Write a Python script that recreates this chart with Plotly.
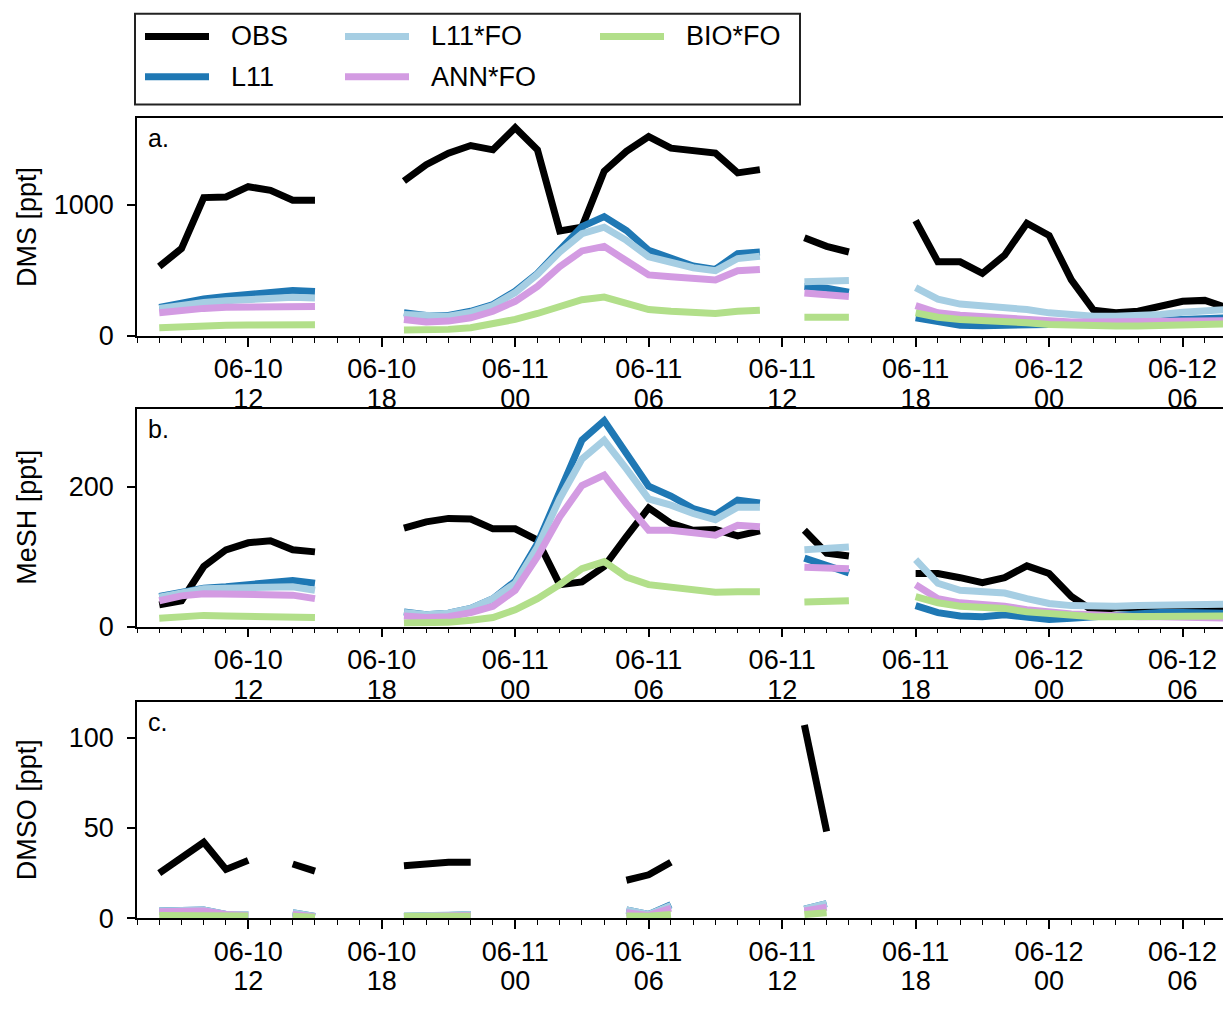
import plotly.graph_objects as go

W, H = 1223, 1009
FONT = "Liberation Sans, Arial, sans-serif"

# hourly time grid, 06-10 08:00 .. 06-12 08:00
TIMES = [f"2019-06-10 {h:02d}:00" for h in range(8, 24)] + \
        [f"2019-06-11 {h:02d}:00" for h in range(0, 24)] + \
        [f"2019-06-12 {h:02d}:00" for h in range(0, 9)]

N = None

# ---- DMS [ppt] ----
DMS_OBS = [530, 666, 1055, 1060, 1138, 1110, 1035, 1035, N, N, N,
           1181, 1306, 1394, 1452, 1419,
           1588, 1419, 800, 830, 1256, 1407, 1520, 1432, 1412, 1394, 1243, 1268,
           N, 748, 683, 640, N, N,
           879, 565, 565, 477, 616, 859, 766, 427, 196, 176, 188, 226, 264, 271, 215]
DMS_L11 = [218, 251, 281, 301, 314, 339, 347, 339, N, N, N,
           176, 156, 156, 188, 239,
           340, 477, 653, 834, 910, 804, 653, 590, 533, 507, 628, 640,
           N, 377, 364, 334, N, N,
           138, 106, 82, 77, 77, 82, 88, 95, 101, 113, 121, 126, 138, 138, 138]
DMS_L11FO = [210, 235, 255, 268, 278, 290, 295, 290, N, N, N,
             163, 150, 150, 180, 232,
             330, 470, 640, 779, 829, 729, 603, 558, 520, 497, 590, 608,
             N, 414, 420, 422, N, N,
             369, 281, 243, 231, 226, 201, 176, 158, 151, 151, 156, 163, 181, 196, 201]
DMS_ANNFO = [176, 195, 210, 218, 222, 230, 232, 225, N, N, N,
             126, 106, 113, 138, 188,
             264, 377, 528, 648, 683, 573, 465, 452, 440, 427, 497, 507,
             N, 327, 309, 301, N, N,
             231, 176, 158, 146, 138, 126, 113, 106, 106, 108, 110, 112, 114, 116, 117]
DMS_BIOFO = [63, 72, 78, 82, 84, 88, 88, 86, N, N, N,
             45, 43, 50, 63, 88,
             126, 171, 226, 276, 296, 246, 201, 188, 176, 171, 188, 196,
             N, 143, 143, 143, N, N,
             176, 143, 126, 121, 113, 101, 88, 80, 75, 75, 75, 80, 88, 90, 92]

# ---- MeSH [ppt] ----
MESH_OBS = [31, 37, 86, 110, 120, 123, 110, 107, N, N, N,
            141, 150, 155, 154, 140,
            140, 124, 60, 64, 86, 129, 170, 148, 138, 139, 130, 137,
            N, 138, 105, 101, N, N,
            76, 76, 70, 63, 70, 87, 76, 43, 22, 27, 27, 27, 28, 28, 28]
MESH_L11 = [43, 50, 55, 57, 60, 65, 66, 62, N, N, N,
            21, 17, 19, 26, 40,
            65, 119, 193, 267, 295, 250, 201, 187, 169, 160, 181, 177,
            N, 98, 88, 77, N, N,
            30, 20, 15, 14, 17, 13, 10, 12, 14, 18, 19, 20, 20, 19, 19]
MESH_L11FO = [42, 48, 54, 55, 56, 58, 57, 52, N, N, N,
              20, 17, 19, 26, 40,
              62, 114, 183, 240, 267, 226, 183, 174, 162, 153, 171, 171,
              N, 110, 112, 114, N, N,
              96, 62, 52, 50, 48, 40, 33, 30, 29, 29, 30, 30, 31, 31, 32]
MESH_ANNFO = [37, 44, 47, 47, 46, 47, 45, 40, N, N, N,
              15, 13, 14, 20, 29,
              52, 100, 157, 202, 217, 176, 138, 138, 134, 131, 145, 143,
              N, 85, 84, 83, N, N,
              60, 40, 34, 32, 29, 24, 20, 18, 17, 15, 14, 14, 13, 13, 12]
MESH_BIOFO = [12, 14, 16, 15, 14, 15, 14, 13, N, N, N,
              5, 5, 6, 9, 13,
              24, 40, 60, 83, 93, 71, 60, 56, 52, 49, 50, 50,
              N, 35, 36, 37, N, N,
              43, 34, 29, 28, 26, 21, 18, 16, 14, 14, 14, 14, 14, 14, 15]

# ---- DMSO [ppt] ----
DMSO_OBS = [25, 34, 42, 27, 32, N, 30, 26, N, N, N,
            29, 30, 31, 31, N,
            N, N, N, N, N, 21, 24, 31, N, N, N, N,
            N, 107, 48, N, N, N,
            N, N, N, N, N, N, N, N, N, N, N, N, N, N, N]
DMSO_L11 = [4, 4.5, 4.5, 2, 2, N, 3, 1, N, N, N,
            1, 1, 1.5, 2, N,
            N, N, N, N, N, 4.5, 2, 7.5, N, N, N, N,
            N, 5, 8, N, N, N,
            N, N, N, N, N, N, N, N, N, N, N, N, N, N, N]
DMSO_L11FO = [4, 4.5, 4.5, 2, 2, N, 3, 1, N, N, N,
              1, 1.2, 1.5, 2, N,
              N, N, N, N, N, 4.5, 2, 7, N, N, N, N,
              N, 5, 8, N, N, N,
              N, N, N, N, N, N, N, N, N, N, N, N, N, N, N]
DMSO_ANNFO = [3.5, 4, 4, 2, 1.5, N, 2, 0.8, N, N, N,
              0.8, 1, 1.2, 1.5, N,
              N, N, N, N, N, 3, 1.5, 5.5, N, N, N, N,
              N, 4, 6, N, N, N,
              N, N, N, N, N, N, N, N, N, N, N, N, N, N, N]
DMSO_BIOFO = [1.5, 1.5, 1.5, 1.2, 1.2, N, 1, 0.5, N, N, N,
              1, 1, 1, 1, N,
              N, N, N, N, N, 1.2, 1, 2, N, N, N, N,
              N, 2, 3, N, N, N,
              N, N, N, N, N, N, N, N, N, N, N, N, N, N, N]

SERIES_NAMES = ["OBS", "L11", "L11*FO", "ANN*FO", "BIO*FO"]
COLORS = ["#000000", "#1f78b4", "#a6cee3", "#d39be2", "#b2df8a"]

PANELS = [
    dict(data=[DMS_OBS, DMS_L11, DMS_L11FO, DMS_ANNFO, DMS_BIOFO],
         ytitle="DMS [ppt]", letter="a.", yrange=[0, 1660], yticks=[0, 1000],
         top=120, bottom=341),
    dict(data=[MESH_OBS, MESH_L11, MESH_L11FO, MESH_ANNFO, MESH_BIOFO],
         ytitle="MeSH [ppt]", letter="b.", yrange=[0, 312], yticks=[0, 200],
         top=415, bottom=636),
    dict(data=[DMSO_OBS, DMSO_L11, DMSO_L11FO, DMSO_ANNFO, DMSO_BIOFO],
         ytitle="DMSO [ppt]", letter="c.", yrange=[0, 119.5], yticks=[0, 50, 100],
         top=713, bottom=932),
]

XRANGE = ["2019-06-10 07:00", "2019-06-12 07:49"]
XTICKS = ["2019-06-10 12:00", "2019-06-10 18:00", "2019-06-11 00:00", "2019-06-11 06:00",
          "2019-06-11 12:00", "2019-06-11 18:00", "2019-06-12 00:00", "2019-06-12 06:00"]
XTICK_LABELS = [("06-10", "12"), ("06-10", "18"), ("06-11", "00"), ("06-11", "06"),
                ("06-11", "12"), ("06-11", "18"), ("06-12", "00"), ("06-12", "06")]

GLYPH = 27      # visible text size
LINE_W = 7

def big(s):
    return f'<span style="font-size:{GLYPH}px">{s}</span>'

ticktext = [big(a) + "<br>" + big(b) for a, b in XTICK_LABELS]

X_LEFT = 137 / W

def px_x(x):
    return x / W

def px_y(y):
    return 1 - y / H

fig = go.Figure()
layout = dict(
    width=W, height=H, autosize=False,
    margin=dict(l=0, r=0, t=0, b=0),
    paper_bgcolor="white", plot_bgcolor="white",
    font=dict(family=FONT, size=GLYPH, color="black"),
    showlegend=False,
)

annotations = []
shapes = []

for k, p in enumerate(PANELS):
    sfx = "" if k == 0 else str(k + 1)
    xa, ya = "x" + sfx, "y" + sfx
    for name, color, vals in zip(SERIES_NAMES, COLORS, p["data"]):
        fig.add_trace(go.Scatter(
            x=TIMES, y=vals, mode="lines", name=name,
            line=dict(color=color, width=LINE_W),
            xaxis=xa, yaxis=ya, connectgaps=False, showlegend=False,
        ))
    layout["xaxis" + sfx] = dict(
        type="date", range=XRANGE, domain=[X_LEFT, 1.0], anchor=ya,
        tickmode="array", tickvals=XTICKS, ticktext=ticktext,
        ticks="outside", ticklen=9, tickwidth=1.5, tickcolor="black",
        tickfont=dict(family=FONT, size=23, color="black"),
        ticklabelstandoff=4,
        showline=True, linewidth=1.6, linecolor="black", mirror=True,
        showgrid=False, zeroline=False,
        minor=dict(ticks="outside", ticklen=5, tickwidth=1.3, tickcolor="black",
                   dtick=3600000, tick0="2019-06-10 00:00", showgrid=False),
    )
    layout["yaxis" + sfx] = dict(
        range=p["yrange"], domain=[px_y(p["bottom"]), px_y(p["top"])], anchor=xa,
        tickmode="array", tickvals=p["yticks"],
        ticks="outside", ticklen=8, tickwidth=1.5, tickcolor="black",
        tickfont=dict(family=FONT, size=GLYPH, color="black"),
        ticklabelstandoff=8,
        showline=True, linewidth=1.6, linecolor="black", mirror=False,
        showgrid=False, zeroline=False,
    )
    annotations.append(dict(
        text=p["ytitle"], xref="paper", yref="paper",
        x=px_x(27), y=px_y((p["top"] + p["bottom"]) / 2),
        xanchor="center", yanchor="middle", textangle=-90, showarrow=False,
        font=dict(family=FONT, size=GLYPH, color="black"),
    ))
    annotations.append(dict(
        text=p["letter"], xref="paper", yref="paper",
        x=px_x(146), y=px_y(p["top"] + 20),
        xanchor="left", yanchor="middle", showarrow=False,
        font=dict(family=FONT, size=GLYPH - 2, color="black"),
    ))

# legend: framed box with three columns
shapes.append(dict(type="rect", xref="paper", yref="paper",
                   x0=px_x(135), x1=px_x(800), y0=px_y(106), y1=px_y(14),
                   line=dict(color="#222222", width=2), fillcolor="white", layer="above"))
LEGEND_SLOTS = [(145, 37), (145, 78), (345, 37), (345, 78), (600, 37)]
for (lx, ly), name, color in zip(LEGEND_SLOTS, SERIES_NAMES, COLORS):
    shapes.append(dict(type="line", xref="paper", yref="paper",
                       x0=px_x(lx), x1=px_x(lx + 64), y0=px_y(ly), y1=px_y(ly),
                       line=dict(color=color, width=LINE_W), layer="above"))
    annotations.append(dict(
        text=name, xref="paper", yref="paper",
        x=px_x(lx + 84), y=px_y(ly), xanchor="left", yanchor="middle",
        showarrow=False, font=dict(family=FONT, size=GLYPH, color="black"),
    ))

layout["annotations"] = annotations
layout["shapes"] = shapes
fig.update_layout(**layout)
fig.write_html("out.html")
